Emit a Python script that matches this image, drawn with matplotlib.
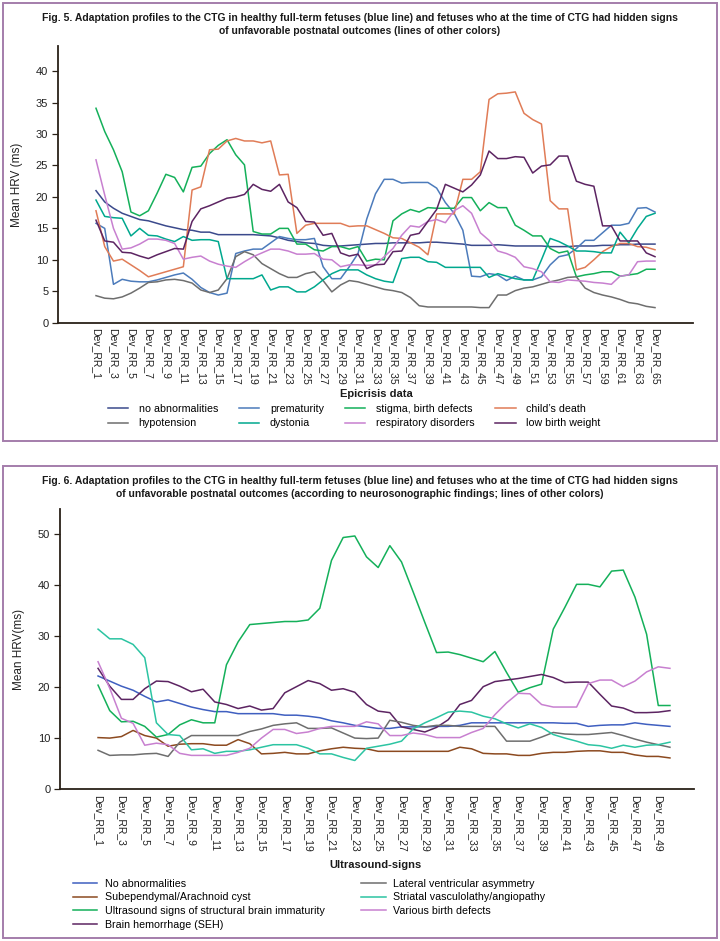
import numpy as np
import matplotlib
matplotlib.use("Agg")
import matplotlib.pyplot as plt
from matplotlib.patches import Rectangle

# ---------------- Fig. 5 data (Dev_RR_1 .. Dev_RR_65) ----------------
labels5 = [f"Dev_RR_{i}" for i in range(1, 66)]

no_abn5 = [21.0, 19.2, 18.2, 17.4, 16.9, 16.4, 16.2, 15.8, 15.4, 15.1, 14.8, 14.7, 14.4, 14.4, 14.0, 14.0, 14.0,
           14.0, 14.0, 13.9, 13.8, 13.5, 13.1, 12.9, 12.7, 12.6, 12.3, 12.2, 12.2, 12.3, 12.4, 12.5, 12.6,
           12.6, 12.7, 12.7, 12.7, 12.7, 12.8, 12.8, 12.7, 12.6, 12.5, 12.3, 12.3, 12.3, 12.4, 12.3, 12.2, 12.2,
           12.2, 12.2, 12.1, 12.1, 12.1, 12.2, 12.2, 12.2, 12.3, 12.3, 12.4, 12.4, 12.5, 12.5, 12.5]
prematurity = [15.8, 15.0, 6.1, 6.9, 6.6, 6.5, 6.5, 6.8, 7.2, 7.6, 7.9, 6.9, 5.6, 4.8, 4.4, 4.7, 11.0,
               11.4, 11.7, 11.7, 12.7, 13.7, 13.4, 13.2, 13.2, 13.4, 8.9, 7.0, 7.0, 8.9, 11.0, 16.5, 20.5,
               22.8, 22.8, 22.2, 22.3, 22.3, 22.3, 21.4, 19.1, 17.4, 14.7, 7.4, 7.3, 7.8, 7.6, 6.7, 7.4, 6.8,
               6.8, 7.3, 9.2, 10.5, 10.8, 11.8, 13.1, 13.1, 14.3, 15.5, 15.5, 15.8, 18.2, 18.3, 17.6]
stigma = [34.1, 30.4, 27.5, 24.0, 17.6, 17.0, 17.8, 20.6, 23.6, 23.1, 20.8, 24.7, 24.9, 26.9, 28.2, 29.1, 26.7,
          25.1, 14.5, 14.1, 14.1, 15.0, 15.0, 12.5, 12.5, 11.6, 11.4, 12.1, 12.1, 11.7, 12.1, 9.8, 10.1,
          10.0, 16.2, 17.3, 18.0, 17.6, 18.3, 18.2, 18.2, 18.2, 19.9, 19.9, 17.8, 19.1, 18.3, 18.3, 15.5, 14.7,
          13.8, 13.8, 11.8, 11.1, 11.4, 7.3, 7.6, 7.8, 8.1, 8.1, 7.4, 7.6, 7.8, 8.5, 8.5]
death = [17.8, 12.1, 9.8, 10.1, 9.2, 8.3, 7.3, 7.7, 8.1, 8.5, 8.9, 21.1, 21.6, 27.5, 27.6, 28.9, 29.3,
         28.9, 28.9, 28.6, 28.9, 23.5, 23.6, 14.2, 15.5, 15.8, 15.8, 15.8, 15.8, 15.3, 15.4, 15.4, 14.8,
         14.2, 13.5, 13.4, 12.7, 12.0, 10.8, 17.3, 17.3, 17.3, 22.8, 22.8, 24.0, 35.5, 36.4, 36.5, 36.7, 33.3,
         32.3, 31.6, 19.4, 18.1, 18.1, 8.4, 8.8, 10.0, 11.3, 12.1, 12.6, 12.6, 12.1, 12.0, 11.6]
hypotension = [4.3, 3.9, 3.8, 4.1, 4.7, 5.5, 6.4, 6.5, 6.8, 6.9, 6.7, 6.3, 5.2, 4.8, 5.2, 7.0, 10.5,
               11.3, 10.8, 9.4, 8.6, 7.8, 7.2, 7.2, 7.8, 8.1, 6.7, 4.9, 6.0, 6.7, 6.5, 6.1, 5.7,
               5.3, 5.1, 4.8, 4.0, 2.7, 2.5, 2.5, 2.5, 2.5, 2.5, 2.5, 2.4, 2.4, 4.4, 4.4, 5.1, 5.5,
               5.7, 6.1, 6.5, 6.8, 7.2, 7.3, 5.5, 4.8, 4.4, 4.1, 3.7, 3.2, 3.0, 2.6, 2.4]
dystonia = [19.5, 16.9, 16.7, 16.6, 13.8, 15.0, 13.9, 13.8, 13.3, 12.9, 13.7, 13.1, 13.2, 13.2, 12.9, 7.0, 7.0,
            7.0, 7.0, 7.6, 5.2, 5.7, 5.7, 4.9, 4.9, 5.7, 6.8, 7.8, 8.4, 8.4, 8.4, 7.6, 7.0,
            6.6, 6.4, 10.2, 10.4, 10.4, 9.7, 9.6, 8.8, 8.8, 8.8, 8.8, 8.8, 7.2, 7.8, 7.4, 7.0, 6.8,
            6.8, 10.0, 13.4, 12.9, 12.2, 11.4, 11.4, 11.3, 11.1, 11.1, 14.4, 12.7, 15.0, 16.9, 17.4]
respiratory = [25.9, 20.3, 15.0, 11.7, 11.9, 12.5, 13.3, 13.3, 13.1, 12.6, 10.1, 10.4, 10.6, 9.8, 9.3, 9.0, 8.8,
               9.7, 10.5, 11.1, 11.7, 11.7, 11.4, 10.9, 10.9, 11.0, 10.1, 10.0, 8.9, 9.2, 9.2, 9.1, 9.2,
               10.5, 11.8, 13.9, 15.4, 15.2, 16.1, 16.4, 15.9, 17.8, 18.6, 17.4, 14.3, 13.1, 11.4, 11.0, 10.4, 8.9,
               8.6, 8.1, 6.5, 6.4, 6.8, 6.7, 6.6, 6.4, 6.3, 6.1, 7.4, 7.6, 9.7, 9.8, 9.8]
low_bw = [16.3, 13.0, 12.8, 11.2, 11.1, 10.6, 10.2, 10.8, 11.3, 11.8, 11.7, 16.1, 18.1, 18.6, 19.2, 19.8, 20.0,
          20.4, 22.0, 21.2, 20.9, 22.0, 19.2, 18.3, 16.1, 16.0, 13.9, 14.2, 11.1, 10.6, 10.9, 8.6, 9.2,
          9.3, 11.3, 11.4, 13.9, 14.2, 16.1, 18.0, 22.0, 21.4, 20.8, 21.9, 23.5, 27.3, 26.1, 26.1, 26.4, 26.3,
          23.8, 24.9, 25.1, 26.5, 26.5, 22.5, 22.0, 21.7, 15.4, 15.4, 13.0, 13.0, 13.0, 11.1, 10.5]

# ---------------- Fig. 6 data (Dev_RR_1 .. Dev_RR_50) ----------------
labels6 = [f"Dev_RR_{i}" for i in range(1, 51)]

no_abn6 = [22.2, 21.2, 20.2, 19.4, 18.2, 17.1, 17.5, 16.8, 16.1, 15.6, 15.2, 15.2, 14.8, 14.8, 14.8, 14.8, 14.5,
           14.5, 14.3, 14.0, 13.4, 13.0, 12.5,
           12.2, 11.9, 11.9, 12.2, 12.2, 12.2, 12.3, 12.3, 12.5, 13.0, 13.0, 13.0, 13.0, 13.0, 13.0, 13.0, 13.0,
           12.9, 12.9, 12.3, 12.5, 12.6, 12.6, 13.0, 12.7, 12.5, 12.3]
cyst = [10.1, 10.0, 10.3, 11.5, 10.5, 10.0, 8.4, 8.8, 8.9, 8.9, 8.6, 8.6, 9.7, 8.9, 6.9, 7.0, 7.2, 6.9, 6.9,
        7.5, 7.9, 8.2, 8.0,
        7.9, 7.4, 7.4, 7.4, 7.4, 7.4, 7.4, 7.4, 8.2, 7.9, 7.0, 6.9, 6.9, 6.6, 6.6, 7.0, 7.2, 7.2, 7.4, 7.5,
        7.5, 7.2, 7.2, 6.7, 6.4, 6.4, 6.1]
immaturity = [20.4, 15.4, 13.2, 13.3, 12.3, 10.2, 10.7, 12.6, 13.6, 13.0, 13.0, 24.4, 28.9, 32.3, 32.5, 32.7,
              32.9, 32.9, 33.2, 35.5, 44.9, 49.4, 49.7,
              45.6, 43.5, 47.8, 44.6, 38.7, 32.7, 26.8, 26.9, 26.4, 25.7, 25.0, 27.0, 22.9, 19.0, 19.9, 20.6,
              31.4, 35.7, 40.2, 40.2, 39.7, 42.8, 43.0, 37.7, 30.4, 16.4, 16.4]
hemorrhage = [23.7, 20.2, 17.6, 17.6, 19.7, 21.2, 21.1, 20.2, 19.1, 19.6, 17.1, 16.6, 15.8, 16.3, 15.5, 15.8,
              18.9, 20.1, 21.3, 20.7, 19.4, 19.7, 19.0,
              16.6, 15.3, 15.0, 12.2, 11.7, 11.2, 12.1, 13.6, 16.6, 17.4, 20.1, 21.1, 21.4, 21.7, 22.1, 22.5,
              21.9, 20.9, 21.0, 21.0, 18.6, 16.3, 15.9, 15.0, 15.0, 15.1, 15.4]
asymmetry = [7.6, 6.6, 6.7, 6.7, 6.9, 7.0, 6.4, 9.2, 10.5, 10.5, 10.5, 10.5, 10.5, 11.3, 11.8, 12.5, 12.8, 13.0,
             11.9, 11.9, 12.0, 11.0, 10.0,
             9.9, 10.0, 13.5, 13.1, 12.5, 12.2, 12.5, 12.5, 12.3, 12.3, 12.3, 12.3, 9.4, 9.4, 9.4, 10.2, 11.1,
             10.8, 10.7, 10.7, 10.9, 11.1, 10.5, 9.8, 9.2, 8.7, 8.2]
striatal = [31.4, 29.5, 29.5, 28.4, 25.8, 13.0, 10.7, 10.5, 7.7, 7.9, 7.0, 7.4, 7.4, 7.7, 8.2, 8.7, 8.7, 8.7,
            8.0, 6.9, 6.9, 6.2, 5.6,
            8.0, 8.4, 8.8, 9.4, 11.8, 13.0, 14.0, 15.1, 15.3, 15.1, 14.3, 13.8, 12.8, 12.0, 12.8, 12.1, 10.7,
            10.0, 9.4, 8.7, 8.5, 8.0, 8.6, 8.2, 8.6, 8.7, 9.2]
defects6 = [25.0, 19.8, 13.9, 12.9, 8.6, 9.0, 8.7, 7.0, 6.6, 6.6, 6.6, 6.6, 7.2, 8.0, 10.0, 11.7, 11.7, 10.9,
            11.2, 11.9, 12.3, 12.3, 12.3,
            13.2, 12.8, 10.5, 10.5, 11.0, 10.7, 10.1, 10.1, 10.1, 11.1, 11.9, 14.6, 16.9, 18.8, 18.7, 16.6,
            16.1, 16.1, 16.1, 20.7, 21.4, 21.4, 20.1, 21.2, 23.0, 24.0, 23.7]

series5 = [
    ("no abnormalities", no_abn5, "#3b4a8c"),
    ("prematurity", prematurity, "#4c7bbb"),
    ("stigma, birth defects", stigma, "#14b05a"),
    ("child\u2019s death", death, "#e07c57"),
    ("hypotension", hypotension, "#6e6e6e"),
    ("dystonia", dystonia, "#00a88e"),
    ("respiratory disorders", respiratory, "#c880d0"),
    ("low birth weight", low_bw, "#5c2462"),
]
series6 = [
    ("No abnormalities", no_abn6, "#3f5fc0"),
    ("Subependymal/Arachnoid cyst", cyst, "#8c4a20"),
    ("Ultrasound signs of structural brain immaturity", immaturity, "#14b05a"),
    ("Brain hemorrhage (SEH)", hemorrhage, "#5c2462"),
    ("Lateral ventricular asymmetry", asymmetry, "#6e6e6e"),
    ("Striatal vasculolathy/angiopathy", striatal, "#2cc4a2"),
    ("Various birth defects", defects6, "#c880d0"),
]

W, H = 720, 941
NARROW = ["Liberation Sans Narrow", "Liberation Sans", "DejaVu Sans"]
REG = ["Liberation Sans", "DejaVu Sans"]
SPINE = "#2a2118"
BORDER = "#a47dab"
TXT = "#1a1a1a"

fig = plt.figure(figsize=(W / 100, H / 100), dpi=100)


def fx(px):
    return px / W


def fy(py):
    return 1 - py / H


def make_axes(left, right, top, bottom):
    return fig.add_axes([fx(left), fy(bottom), fx(right - left), (bottom - top) / H])


def style_axes(ax, labels, ymax, ystep, ylim_top, ylabel, xlim, ylab_x):
    n = len(labels)
    ax.set_xlim(*xlim)
    ax.set_ylim(0, ylim_top)
    ax.set_yticks(np.arange(0, ymax + 0.1, ystep))
    ticks = list(range(0, n, 2))
    ax.set_xticks(ticks)
    ax.set_xticklabels([labels[i] for i in ticks], rotation=-90, family=REG, fontsize=7.5, color="#222")
    for t in ax.get_yticklabels():
        t.set_family(REG)
        t.set_fontsize(8)
        t.set_color("#222")
    ax.tick_params(axis="x", length=0, pad=4)
    ax.tick_params(axis="y", length=4, width=0.9, color=SPINE, pad=3)
    for s in ("top", "right"):
        ax.spines[s].set_visible(False)
    for s in ("left", "bottom"):
        ax.spines[s].set_color(SPINE)
        ax.spines[s].set_linewidth(1.3)
    ax.set_ylabel(ylabel, family=NARROW, fontsize=8.5, color="#222")
    # place the y label at a fixed pixel column
    x0 = ax.get_position().x0
    ax.yaxis.set_label_coords((fx(ylab_x) - x0) / ax.get_position().width, 0.5)


# panel borders
fig.patches.append(Rectangle((fx(3), fy(441)), fx(714), (441 - 3) / H, transform=fig.transFigure,
                             fill=False, edgecolor=BORDER, linewidth=1.4))
fig.patches.append(Rectangle((fx(3), fy(938)), fx(714), (938 - 466) / H, transform=fig.transFigure,
                             fill=False, edgecolor=BORDER, linewidth=1.4))

# ---------------- Fig. 5 ----------------
fig.text(0.5, fy(18), "Fig. 5. Adaptation profiles to the CTG in healthy full-term fetuses (blue line) and fetuses "
         "who at the time of CTG had hidden signs", ha="center", va="center", family=NARROW,
         fontsize=7.5, fontweight="bold", color=TXT)
fig.text(0.5, fy(31), "of unfavorable postnatal outcomes (lines of other colors)", ha="center", va="center",
         family=NARROW, fontsize=7.5, fontweight="bold", color=TXT)

ax1 = make_axes(58, 693, 46, 322.7)
x5 = np.arange(len(labels5))
handles5 = {}
for name, vals, col in series5:
    ln, = ax1.plot(x5, vals, color=col, lw=1.1, label=name)
    handles5[name] = ln
style_axes(ax1, labels5, 40, 5, 44, "Mean HRV (ms)", (-4.35, 68.35), 23)

fig.text(fx(376), fy(394), "Epicrisis data", ha="center", va="center", family=NARROW,
         fontsize=8, fontweight="bold", color=TXT)
# ncol=4 fills by column, so interleave the two rows
order5 = ["no abnormalities", "hypotension", "prematurity", "dystonia",
          "stigma, birth defects", "respiratory disorders", "child\u2019s death", "low birth weight"]
fig.legend([handles5[k] for k in order5], order5, ncol=4, loc="upper left",
           bbox_to_anchor=(fx(98), fy(394)), frameon=False, handlelength=1.9,
           handletextpad=1.0, columnspacing=1.95, labelspacing=0.45,
           prop={"family": NARROW, "size": 7.7})

# ---------------- Fig. 6 ----------------
fig.text(0.5, fy(481), "Fig. 6. Adaptation profiles to the CTG in healthy full-term fetuses (blue line) and fetuses "
         "who at the time of CTG had hidden signs", ha="center", va="center", family=NARROW,
         fontsize=7.5, fontweight="bold", color=TXT)
fig.text(0.5, fy(494), "of unfavorable postnatal outcomes (according to neurosonographic findings; lines of other "
         "colors)", ha="center", va="center", family=NARROW, fontsize=7.5, fontweight="bold", color=TXT)

ax2 = make_axes(60, 694, 509, 789)
x6 = np.arange(len(labels6))
for name, vals, col in series6:
    ax2.plot(x6, vals, color=col, lw=1.1, label=name)
style_axes(ax2, labels6, 50, 10, 55, "Mean HRV(ms)", (-3.26, 51.06), 25)

fig.text(fx(376), fy(865), "Ultrasound-signs", ha="center", va="center", family=NARROW,
         fontsize=8, fontweight="bold", color=TXT)
fig.legend(*ax2.get_legend_handles_labels(), ncol=2, loc="upper left",
           bbox_to_anchor=(fx(63), fy(869)), frameon=False, handlelength=2.3,
           handletextpad=0.7, columnspacing=3.4, labelspacing=0.35,
           prop={"family": NARROW, "size": 7.7})

fig.savefig("out.png", dpi=100)
